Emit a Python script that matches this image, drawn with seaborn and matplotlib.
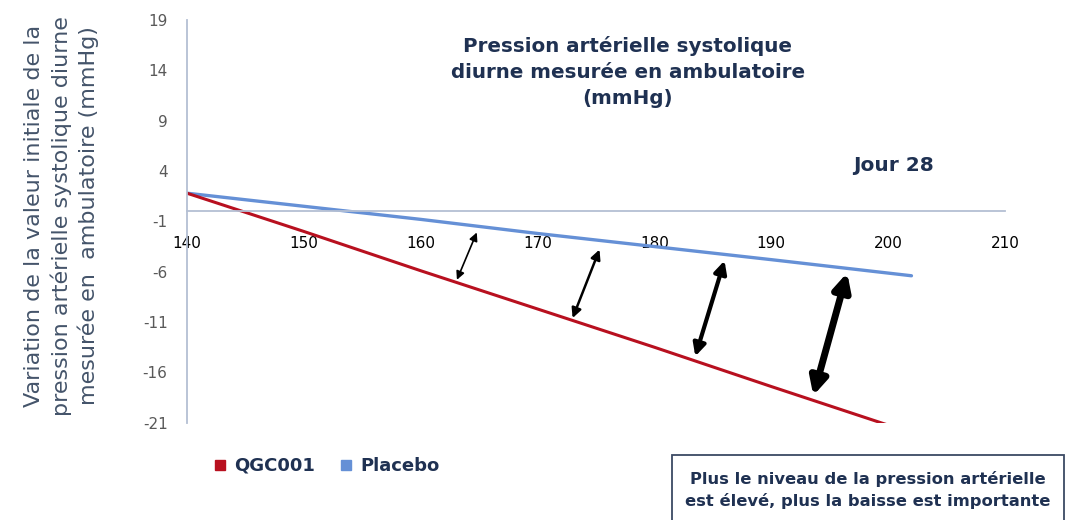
import numpy as np
import pandas as pd
import matplotlib.pyplot as plt
import seaborn as sns
from matplotlib.lines import Line2D
from matplotlib.patches import Rectangle

# baseline systolic pressure (mmHg) and change from baseline at day 28
baseline = [140, 150, 160, 170, 180, 190, 202]
qgc001 = [1.8, -2.0, -5.9, -9.7, -13.5, -17.4, -22.0]
placebo = [1.8, 0.5, -0.8, -2.2, -3.5, -4.8, -6.4]

x_ticks = [140, 150, 160, 170, 180, 190, 200, 210]
y_ticks = [-21, -16, -11, -6, -1, 4, 9, 14, 19]

# double arrows between the two lines: (start x, start y, end x, end y, width)
arrows = [
    (163.1, -6.8, 164.8, -2.1, 1.2),
    (173.0, -10.6, 175.3, -3.8, 1.8),
    (183.5, -14.4, 186.0, -4.9, 3.0),
    (193.6, -18.3, 196.5, -6.1, 5.0),
]

RED = "#B8101F"
BLUE = "#6590D6"
NAVY = "#1F3152"


def main():
    sns.set_style("white")
    plt.rcParams["font.family"] = ["DejaVu Sans"]
    plt.rcParams["axes.unicode_minus"] = False

    df = pd.DataFrame({"base": baseline, "QGC001": qgc001, "Placebo": placebo})

    fig = plt.figure(figsize=(10.65, 5.2), dpi=100)
    ax = fig.add_axes([0.1756, 0.187, 0.768, 0.7745])

    sns.lineplot(data=df, x="base", y="Placebo", color=BLUE, linewidth=2.4, ax=ax)
    sns.lineplot(data=df, x="base", y="QGC001", color=RED, linewidth=2.2, ax=ax)

    ax.set_xlim(140, 210)
    ax.set_ylim(-21, 19)
    ax.set_xticks(x_ticks)
    ax.set_yticks(y_ticks)
    ax.set_xlabel("")
    ax.set_ylabel("")

    for side in ["top", "right"]:
        ax.spines[side].set_visible(False)
    ax.spines["bottom"].set_position(("data", 0))
    ax.spines["bottom"].set_color("#B4BFD3")
    ax.spines["left"].set_color("#B4BFD3")
    ax.spines["bottom"].set_linewidth(1.3)
    ax.spines["left"].set_linewidth(1.3)
    ax.tick_params(axis="x", direction="out", length=6, color="#B4BFD3",
                   labelsize=11, labelcolor="black", pad=12)
    ax.tick_params(axis="y", direction="out", length=6, color="#B4BFD3",
                   labelsize=11, labelcolor="#595959", pad=8)

    for x0, y0, x1, y1, w in arrows:
        ax.annotate("", xy=(x1, y1), xytext=(x0, y0),
                    arrowprops=dict(arrowstyle="<|-|>", color="black", lw=w,
                                    mutation_scale=8 + 3.5 * w,
                                    shrinkA=0, shrinkB=0))

    ax.text(0.539, 0.96, "Pression artérielle systolique\ndiurne mesurée en ambulatoire\n(mmHg)",
            transform=ax.transAxes, ha="center", va="top", fontsize=14.3,
            fontweight="bold", color=NAVY, linespacing=1.45)
    ax.text(0.864, 0.64, "Jour 28", transform=ax.transAxes, ha="center",
            va="center", fontsize=14.5, fontweight="bold", color=NAVY)

    fig.text(0.058, 0.585,
             "Variation de la valeur initiale de la\npression artérielle systolique diurne\nmesurée en  ambulatoire (mmHg)",
             rotation=90, ha="center", va="center", fontsize=16,
             color="#44546A", linespacing=1.35)

    handles = [
        Line2D([], [], marker="s", linestyle="none", color=RED, markersize=7),
        Line2D([], [], marker="s", linestyle="none", color=BLUE, markersize=7),
    ]
    leg = fig.legend(handles, ["QGC001", "Placebo"], loc="center left",
                     bbox_to_anchor=(0.183, 0.104), ncol=2, frameon=False,
                     handletextpad=0.3, columnspacing=1.2, handlelength=1.0,
                     prop={"size": 13, "weight": "bold"})
    for t in leg.get_texts():
        t.set_color(NAVY)

    fig.patches.append(Rectangle((672 / 1065, -0.02), 392 / 1065, 0.145,
                                 transform=fig.transFigure, fill=False,
                                 edgecolor="#3B4A63", linewidth=1.3))
    fig.text(868 / 1065, 1 - 490 / 520,
             "Plus le niveau de la pression artérielle\nest élevé, plus la baisse est importante",
             ha="center", va="center", fontsize=11.8, fontweight="bold",
             color=NAVY, linespacing=1.45)

    fig.savefig("out.png", dpi=100)


if __name__ == "__main__":
    main()
